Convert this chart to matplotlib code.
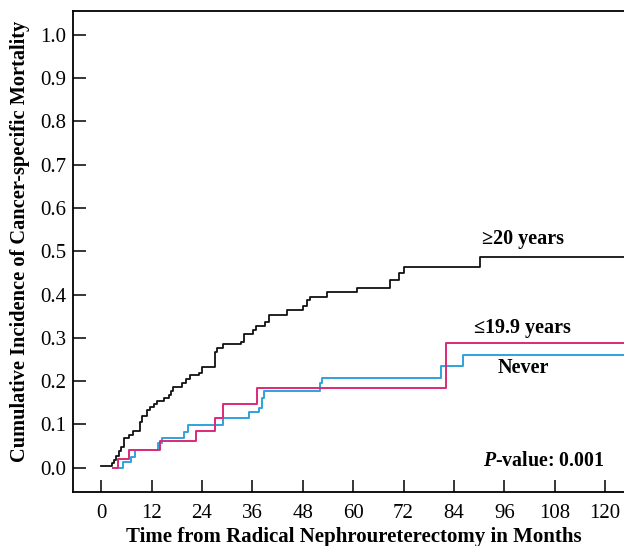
import matplotlib
matplotlib.use("Agg")
import matplotlib.pyplot as plt

plt.rcParams['font.family'] = ['Liberation Serif', 'DejaVu Serif']
plt.rcParams['mathtext.fontset'] = 'custom'
plt.rcParams['mathtext.it'] = 'Liberation Serif:italic:bold'
plt.rcParams['mathtext.rm'] = 'Liberation Serif:bold'

# cumulative incidence step data (months, incidence)
t_ge20 = [0, 2.5, 3.1, 3.6, 4.2, 4.7, 5.5, 6.7, 7.7, 9.2, 9.8, 10.8, 11.7, 12.6,
          13.4, 15.0, 16.1, 16.7, 17.2, 19.3, 20.3, 21.1, 23.3, 23.9, 27.1, 27.5,
          29.0, 33.4, 34.0, 36.2, 36.8, 39.0, 40.0, 44.3, 48.1, 49.0, 49.7, 53.8,
          61.0, 68.7, 70.9, 72.1, 90.3, 125]
v_ge20 = [0.005, 0.010, 0.018, 0.027, 0.039, 0.048, 0.068, 0.075, 0.085, 0.106,
          0.119, 0.133, 0.141, 0.147, 0.154, 0.160, 0.168, 0.178, 0.187, 0.195,
          0.205, 0.214, 0.219, 0.232, 0.268, 0.277, 0.285, 0.291, 0.308, 0.318,
          0.327, 0.337, 0.353, 0.364, 0.374, 0.387, 0.395, 0.406, 0.416, 0.433,
          0.450, 0.463, 0.487, 0.487]

t_le199 = [2.8, 4.0, 6.6, 14.0, 22.5, 27.0, 29.1, 37.0, 82.2, 125]
v_le199 = [0.0, 0.019, 0.041, 0.061, 0.085, 0.114, 0.146, 0.183, 0.287, 0.287]

t_never = [2.8, 5.1, 7.2, 8.0, 13.6, 14.4, 19.8, 20.7, 29.1, 35.2, 37.6, 38.2,
           38.7, 52.1, 52.5, 81.0, 86.2, 125]
v_never = [0.0, 0.014, 0.025, 0.041, 0.056, 0.069, 0.083, 0.098, 0.114, 0.128,
           0.139, 0.160, 0.177, 0.195, 0.208, 0.235, 0.261, 0.261]

x_ticks = list(range(0, 121, 12))
y_ticks = [i / 10 for i in range(11)]

fig = plt.figure(figsize=(6.24, 5.46), dpi=100)
ax = fig.add_axes([0.117, 0.099, 0.883, 0.881])

ax.step(t_never, v_never, where='post', color='#2ea3dc', lw=1.4, zorder=2)
ax.step(t_le199, v_le199, where='post', color='#dc2a78', lw=1.4, zorder=3)
ax.step(t_ge20, v_ge20, where='post', color='#111111', lw=1.3, zorder=4)

ax.set_xlim(-6.7, 124.5)
ax.set_ylim(-0.056, 1.055)
ax.set_xticks(x_ticks)
ax.set_yticks(y_ticks)
ax.set_yticklabels([f"{v:.1f}" for v in y_ticks])
ax.tick_params(direction='in', length=9, width=1.1, labelsize=15)
ax.tick_params(axis='x', pad=9)
ax.tick_params(axis='y', pad=5)
ax.spines['right'].set_visible(False)
for s in ('left', 'top', 'bottom'):
    ax.spines[s].set_linewidth(1.3)

ax.set_xlabel("Time from Radical Nephroureterectomy in Months",
              fontsize=15, fontweight='bold')
ax.set_ylabel("Cumulative Incidence of Cancer-specific Mortality",
              fontsize=14.7, fontweight='bold')
ax.xaxis.set_label_coords(0.51, -0.072)
ax.yaxis.set_label_coords(-0.078, 0.52)

txt = dict(fontsize=14.5, fontweight='bold', ha='center', va='center')
ax.text(100.4, 0.528, "≥20 years", **txt)
ax.text(100.4, 0.322, "≤19.9 years", **txt)
ax.text(100.5, 0.230, "Never", **txt)
ax.text(119.8, 0.016, r"$\mathit{P}$-value: 0.001", fontsize=14.3,
        fontweight='bold', ha='right', va='center')

fig.savefig("out.png", dpi=100, facecolor='white')
